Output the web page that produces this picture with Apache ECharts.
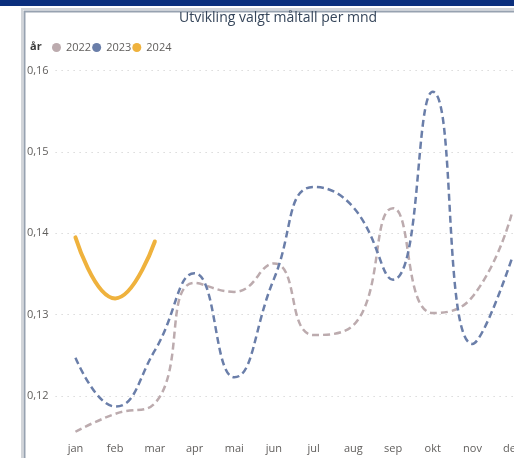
<!DOCTYPE html>
<html>
<head>
<meta charset="utf-8">
<script src="https://cdn.jsdelivr.net/npm/echarts@6/dist/echarts.min.js"></script>
<style>
  html, body { margin: 0; padding: 0; background: #fff; }
  #chart { width: 514px; height: 458px; }
</style>
</head>
<body>
<div id="chart"></div>
<script>
// måneder og verdier lest av figuren
var months = ['jan', 'feb', 'mar', 'apr', 'mai', 'jun', 'jul', 'aug', 'sep', 'okt', 'nov', 'des'];
var years = ['2022', '2023', '2024'];
var v2022 = [0.1156, 0.1178, 0.1191, 0.1339, 0.1328, 0.1363, 0.1275, 0.1287, 0.1431, 0.1302, 0.1322, 0.1426];
var v2023 = [0.1247, 0.1187, 0.1256, 0.1351, 0.1223, 0.1344, 0.1457, 0.1432, 0.1343, 0.1574, 0.1264, 0.1370];
var v2024 = [0.1395, 0.1320, 0.1390];
var yTicks = [0.11, 0.12, 0.13, 0.14, 0.15, 0.16];

var colors = ['#bcabae', '#6a7ea9', '#efb23d'];
var font = '"Segoe UI", "Open Sans", sans-serif';

var chart = echarts.init(document.getElementById('chart'));

function lineSeries(name, data, color, dashed) {
  return {
    name: name,
    type: 'line',
    data: data,
    smooth: true,
    showSymbol: false,
    symbol: 'none',
    itemStyle: { color: color },
    lineStyle: dashed
      ? { color: color, width: 2.5, type: [7, 4] }
      : { color: color, width: 4, cap: 'round' }
  };
}

var option = {
  animation: false,
  textStyle: { fontFamily: font },
  graphic: [
    { type: 'rect', shape: { x: 0, y: 0, width: 514, height: 6 }, style: { fill: '#0b2f7d' }, z: 0 },
    { type: 'rect', shape: { x: 22, y: 9, width: 600, height: 500 }, style: { fill: 'none', stroke: '#d2d5d9', lineWidth: 2 }, z: 0 },
    { type: 'rect', shape: { x: 24.5, y: 11.5, width: 600, height: 500 }, style: { fill: 'none', stroke: '#97a2b0', lineWidth: 2 }, z: 0 }
  ],
  title: [
    {
      text: 'Utvikling valgt måltall per mnd',
      left: 179,
      top: 11,
      padding: 0,
      textStyle: { fontFamily: font, fontSize: 14, fontWeight: 500, color: '#35455a' }
    },
    {
      text: 'år',
      left: 30,
      top: 41,
      padding: 0,
      textStyle: { fontFamily: font, fontSize: 11, fontWeight: 'bold', color: '#3a3a3a' }
    }
  ],
  legend: {
    data: years,
    left: 52,
    top: 42,
    padding: 0,
    icon: 'circle',
    itemWidth: 9,
    itemHeight: 9,
    itemGap: 1,
    itemStyle: { borderWidth: 0 },
    textStyle: { fontFamily: font, fontSize: 11, color: '#605e5c' }
  },
  grid: {
    left: 55.6,
    top: 70.7,
    width: 476.4,
    height: 406.6,
    containLabel: false,
    outerBoundsMode: 'none'
  },
  xAxis: {
    type: 'category',
    data: months,
    boundaryGap: true,
    offset: -40,
    axisLine: { show: false },
    axisTick: { show: false },
    axisLabel: { color: '#605e5c', fontSize: 11, margin: 6, interval: 0 }
  },
  yAxis: {
    type: 'value',
    min: yTicks[0],
    max: yTicks[yTicks.length - 1],
    interval: 0.01,
    axisLine: { show: false },
    axisTick: { show: false },
    axisLabel: {
      color: '#605e5c',
      fontSize: 11,
      margin: 7,
      formatter: function (v) { return v.toFixed(2).replace('.', ','); }
    },
    splitLine: { show: true, lineStyle: { color: '#c8c8c8', width: 1, type: [1, 5] } }
  },
  series: [
    lineSeries('2022', v2022, colors[0], true),
    lineSeries('2023', v2023, colors[1], true),
    lineSeries('2024', v2024, colors[2], false)
  ]
};

chart.setOption(option);
</script>
</body>
</html>
